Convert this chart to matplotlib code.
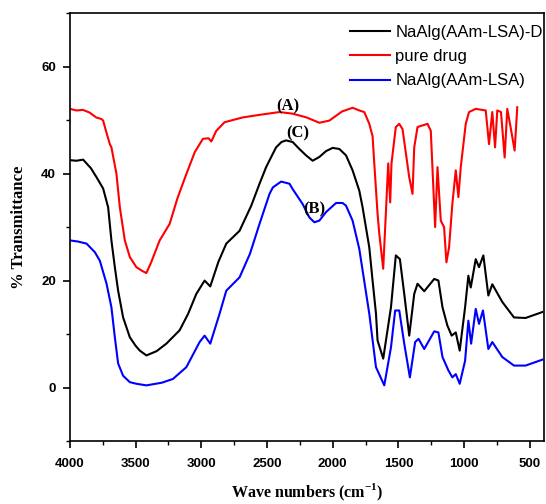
import numpy as np
import matplotlib
matplotlib.use('Agg')
import matplotlib.pyplot as plt
from matplotlib.ticker import MultipleLocator

#############################################################################
# DATA
#############################################################################

drug_wn = [4000, 3950, 3900, 3850, 3800, 3760, 3747, 3720, 3696, 3684, 3646, 3620,
	3582, 3544, 3494, 3450, 3418, 3380, 3317, 3241, 3180, 3114, 3050, 2988, 2945,
	2924, 2886, 2823, 2684, 2550, 2405, 2306, 2200, 2102, 2026, 1930, 1849, 1798,
	1760, 1722, 1697, 1684, 1659, 1646, 1616, 1596, 1578, 1563, 1553, 1520, 1494,
	1469, 1418, 1393, 1380, 1355, 1279, 1254, 1221, 1203, 1178, 1153, 1135, 1115,
	1090, 1064, 1044, 1026, 988, 963, 912, 836, 811, 786, 765, 748, 720, 692,
	672, 647, 616, 596]
drug_t = [52.1, 51.8, 51.9, 51.4, 50.5, 50.2, 49.9, 47.5, 45.5, 44.9, 40.0, 33.7,
	27.5, 24.4, 22.5, 21.8, 21.4, 23.5, 27.5, 30.6, 35.5, 39.9, 44.0, 46.5, 46.6,
	46.0, 48.0, 49.6, 50.5, 51.0, 51.5, 51.2, 50.5, 49.5, 49.9, 51.6, 52.3, 51.8,
	51.5, 49.3, 47.0, 41.9, 32.5, 28.8, 22.2, 32.5, 41.9, 34.6, 41.9, 48.7, 49.3,
	48.3, 39.3, 36.2, 44.9, 48.7, 49.3, 48.0, 30.0, 41.2, 31.2, 30.0, 23.4, 26.2,
	34.3, 40.6, 35.6, 41.2, 49.3, 51.5, 52.1, 51.8, 45.5, 51.5, 44.9, 51.8, 51.5,
	43.0, 52.1, 48.7, 44.3, 52.4]

gel_d_wn = [4000, 3950, 3899, 3840, 3797, 3747, 3709, 3684, 3658, 3633, 3595, 3544,
	3500, 3468, 3418, 3340, 3266, 3165, 3100, 3038, 2975, 2932, 2870, 2810, 2709,
	2620, 2557, 2507, 2456, 2431, 2390, 2355, 2305, 2254, 2203, 2153, 2102, 2051,
	2001, 1950, 1899, 1849, 1798, 1773, 1722, 1697, 1671, 1659, 1616, 1557, 1520,
	1489, 1456, 1418, 1380, 1355, 1304, 1228, 1196, 1165, 1128, 1095, 1064, 1034,
	993, 968, 950, 912, 887, 854, 816, 786, 710, 621, 533, 406]
gel_d_t = [42.5, 42.4, 42.6, 41.0, 39.3, 37.2, 33.7, 27.5, 22.5, 18.1, 13.1, 9.4,
	7.8, 6.9, 6.0, 6.8, 8.2, 10.7, 13.8, 17.5, 20.0, 18.9, 23.5, 26.9, 29.3,
	34.0, 38.1, 41.2, 43.7, 44.9, 45.9, 46.2, 45.9, 44.6, 43.4, 42.4, 43.1, 44.2,
	44.8, 44.6, 43.4, 40.6, 36.8, 33.7, 26.2, 20.0, 13.8, 8.8, 5.4, 15.0, 24.7,
	24.0, 17.5, 9.7, 17.5, 19.4, 18.0, 20.3, 20.0, 15.0, 11.6, 9.7, 10.3, 6.9,
	15.0, 20.9, 18.7, 24.0, 22.5, 24.7, 17.2, 19.3, 16.0, 13.1, 13.0, 14.1]

gel_wn = [4000, 3940, 3873, 3810, 3772, 3721, 3684, 3658, 3633, 3595, 3544, 3494,
	3418, 3300, 3216, 3114, 3013, 2975, 2932, 2861, 2810, 2709, 2630, 2557, 2481,
	2456, 2393, 2329, 2305, 2229, 2178, 2140, 2102, 2051, 1975, 1925, 1899, 1849,
	1798, 1722, 1671, 1608, 1557, 1525, 1494, 1456, 1413, 1373, 1347, 1304, 1228,
	1196, 1165, 1120, 1090, 1064, 1034, 993, 968, 947, 912, 887, 857, 816, 786,
	710, 621, 533, 406]
gel_t = [27.5, 27.3, 26.9, 25.3, 23.7, 19.4, 15.0, 9.4, 4.5, 2.2, 1.0, 0.7,
	0.4, 0.9, 1.6, 3.8, 8.5, 9.7, 8.2, 13.8, 18.1, 20.6, 25.0, 30.6, 36.2,
	37.4, 38.5, 38.1, 37.1, 34.3, 31.8, 30.9, 31.2, 32.8, 34.5, 34.5, 34.0, 31.2,
	25.9, 13.8, 3.8, 0.4, 7.5, 14.4, 14.4, 8.2, 1.9, 8.5, 9.1, 7.2, 10.5,
	10.3, 5.7, 3.2, 1.9, 2.5, 0.7, 5.0, 12.5, 8.2, 14.7, 11.9, 14.4, 7.2, 8.5,
	5.7, 4.1, 4.1, 5.2]

legends = ["NaAlg(AAm-LSA)-D", "pure drug", "NaAlg(AAm-LSA)"]
labels = ["(A)", "(C)", "(B)"]
label_pos = [(2345, 52.6), (2269, 47.5), (2140, 33.3)]

#############################################################################
# PLOT
#############################################################################

plt.rcParams['mathtext.fontset'] = 'custom'
plt.rcParams['mathtext.rm'] = 'Liberation Serif:bold'
plt.rcParams['mathtext.bf'] = 'Liberation Serif:bold'

fig = plt.figure(figsize=(5.46, 5.04), dpi=100)
ax = fig.add_axes([0.128, 0.125, 0.868, 0.849])

ax.plot(gel_d_wn, gel_d_t, color='black', linewidth=1.5, label=legends[0])
ax.plot(drug_wn, drug_t, color='red', linewidth=1.5, label=legends[1])
ax.plot(gel_wn, gel_t, color='blue', linewidth=1.5, label=legends[2])

for txt, (x, y) in zip(labels, label_pos):
	ax.text(x, y, txt, ha='center', va='center', fontsize=12,
		fontweight='bold', family='Liberation Serif')

ax.set_xlim(4000, 394)
ax.set_ylim(-10, 70)
ax.xaxis.set_major_locator(MultipleLocator(500))
ax.xaxis.set_minor_locator(MultipleLocator(250))
ax.yaxis.set_major_locator(MultipleLocator(20))
ax.yaxis.set_minor_locator(MultipleLocator(10))
ax.tick_params(which='major', direction='out', length=5, width=1.2)
ax.tick_params(axis='x', which='major', pad=7)
ax.tick_params(axis='y', which='major', pad=5)
ax.tick_params(which='minor', direction='out', length=3, width=1.0)
for lab in ax.get_xticklabels() + ax.get_yticklabels():
	lab.set_fontweight('bold')
	lab.set_family('Liberation Sans')
	lab.set_fontsize(9.5)
for sp in ax.spines.values():
	sp.set_linewidth(1.2)

ax.set_xlabel(r'Wave numbers (cm$^{\mathbf{-1}}$)', fontsize=11.5, fontweight='bold',
	family='Liberation Serif', labelpad=9)
ax.set_ylabel('% Transmittance', fontsize=12, fontweight='bold',
	family='Liberation Serif', labelpad=10)

leg = ax.legend(loc='upper left', bbox_to_anchor=(0.59, 0.972), frameon=False,
	borderaxespad=0, borderpad=0, handlelength=2.4, handletextpad=0.35,
	labelspacing=0.55, prop={'family': 'Liberation Sans', 'size': 12})

fig.savefig('out.png', dpi=100)
